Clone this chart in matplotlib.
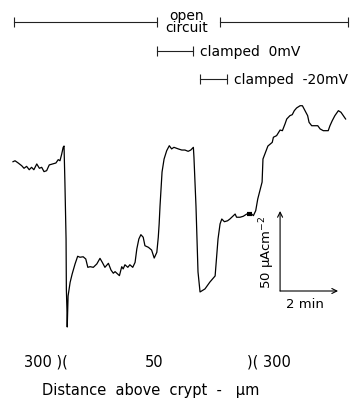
import matplotlib.pyplot as plt
import matplotlib.transforms as mtransforms
import numpy as np

# short-circuit current trace while the probe is moved along the crypt axis
time_min = [
    0.00, 0.07, 0.18, 0.30, 0.38, 0.47, 0.56, 0.64, 0.72, 0.82,
    0.91, 0.99, 1.07, 1.16, 1.25, 1.37, 1.48, 1.56, 1.62, 1.68,
    1.73, 1.76, 1.79, 1.83, 1.84, 1.86, 1.87, 1.90,
    1.97, 2.04, 2.14, 2.23, 2.31, 2.42, 2.51, 2.58, 2.66, 2.77,
    2.89, 3.00, 3.08, 3.17, 3.29, 3.38, 3.46, 3.52, 3.61, 3.67,
    3.75, 3.80, 3.86, 3.96, 4.03, 4.13, 4.21, 4.27, 4.34, 4.41,
    4.49, 4.55, 4.67, 4.78, 4.87, 4.96, 5.01, 5.04, 5.07, 5.14,
    5.21, 5.30, 5.39, 5.47, 5.55, 5.70, 5.82, 5.93, 6.04, 6.13,
    6.22, 6.24, 6.31, 6.38, 6.45, 6.62, 6.79, 6.97, 7.07,
    7.14, 7.20, 7.29, 7.40, 7.48, 7.60, 7.66, 7.71, 7.83, 7.94,
    8.06, 8.23, 8.29, 8.37, 8.44, 8.59, 8.62, 8.79,
    8.94, 8.98, 9.09, 9.21, 9.29, 9.38, 9.44, 9.55, 9.63, 9.70,
    9.78, 9.90, 9.98, 10.07, 10.16, 10.21, 10.30, 10.41, 10.51, 10.59,
    10.70, 10.87, 10.93, 11.01, 11.10, 11.22, 11.31, 11.39, 11.47,
]
current_ua = [
    85.8, 86.4, 85.0, 83.3, 81.7, 82.9, 80.8, 82.3, 80.8, 84.4,
    81.7, 82.3, 79.6, 80.2, 83.8, 84.4, 85.0, 87.1, 86.4, 90.6,
    94.8, 95.6, 73.1, 37.5, 6.3, -6.3, -17.5, 1.9,
    10.4, 15.6, 21.9, 26.7, 26.1, 26.4, 25.0, 19.8, 20.2, 19.8,
    21.9, 25.4, 22.9, 19.8, 22.3, 18.1, 16.1, 17.1, 15.6, 14.6,
    20.2, 18.8, 21.4, 19.8, 21.4, 19.8, 22.9, 31.3, 37.5, 40.2,
    38.6, 33.3, 32.3, 30.6, 25.6, 29.2, 38.6, 46.9, 58.1, 79.4,
    87.5, 92.7, 95.8, 93.8, 94.8, 93.8, 93.1, 93.1, 92.3, 93.1,
    94.8, 88.6, 58.1, 16.9, 4.4, 6.3, 10.6, 14.4, 37.5,
    46.9, 50.0, 48.3, 48.9, 50.0, 52.1, 53.1, 51.1, 51.1, 51.7,
    53.1, 53.1, 52.1, 55.2, 62.5, 73.1, 87.5, 95.6,
    97.9, 101.1, 102.1, 105.6, 105.2, 109.4, 112.5, 114.6, 115.2, 117.7,
    119.4, 120.8, 120.8, 117.7, 114.6, 110.4, 108.3, 108.3, 108.3, 106.3,
    105.2, 105.2, 108.3, 111.5, 114.6, 117.7, 116.7, 114.6, 112.5,
]

# recording periods (minutes)
open_periods = [(0.03, 4.97), (7.14, 11.55)]
clamp_0mv = (4.97, 6.21)
clamp_20mv = (6.45, 7.38)

# scale bar
scale_t0, scale_i0 = 9.21, 5.0
scale_i = 50.0
scale_t = 2.0

# probe positions (distance above crypt, um) and where they occur
pos_labels = ["300 )(", "50", ")( 300"]
pos_times = [1.14, 4.85, 8.83]

fig = plt.figure(figsize=(3.6, 4.06), dpi=100)
ax = fig.add_axes([0, 0, 1, 1])
ax.set_xlim(-0.448, 11.966)
ax.set_ylim(-66.25, 187.5)
ax.axis("off")

t = np.array(time_min)
cur = np.array(current_ua)
ax.plot(t, cur, color="black", lw=0.9, solid_joinstyle="round")
thick = (t >= 8.0) & (t <= 8.25)
ax.plot(t[thick], cur[thick], color="black", lw=3.0, solid_capstyle="butt")

# period bars across the top
trans = mtransforms.blended_transform_factory(ax.transData, ax.transAxes)
bar_kw = dict(color="#222222", lw=0.8, marker="|", markersize=7, markeredgewidth=0.8, transform=trans)
for a, b in open_periods:
    ax.plot([a, b], [0.943, 0.943], **bar_kw)
ax.text(6.0, 0.946, "open\ncircuit", transform=trans, ha="center", va="center",
        fontsize=10, linespacing=0.85)
ax.plot(list(clamp_0mv), [0.872, 0.872], **bar_kw)
ax.text(clamp_0mv[1] + 0.25, 0.872, "clamped  0mV", transform=trans, ha="left",
        va="center", fontsize=10)
ax.plot(list(clamp_20mv), [0.803, 0.803], **bar_kw)
ax.text(clamp_20mv[1] + 0.25, 0.803, "clamped  -20mV", transform=trans, ha="left",
        va="center", fontsize=10)

# calibration arrows
arrow = dict(arrowstyle="->", lw=0.8, color="black", shrinkA=0, shrinkB=0,
             mutation_scale=9)
ax.annotate("", xy=(scale_t0, scale_i0 + scale_i), xytext=(scale_t0, scale_i0),
            arrowprops=arrow)
ax.annotate("", xy=(scale_t0 + scale_t, scale_i0), xytext=(scale_t0, scale_i0),
            arrowprops=arrow)
ax.text(scale_t0 - 0.45, scale_i0 + scale_i / 2, r"50 µAcm$^{-2}$", rotation=90,
        ha="center", va="center", fontsize=9.5)
ax.text(scale_t0 + 0.86, scale_i0 - 7.5, "2 min", ha="center", va="center", fontsize=9.5)

for lab, tt in zip(pos_labels, pos_times):
    ax.text(tt, 0.108, lab, transform=trans, ha="center", va="center", fontsize=10.5)
ax.text(4.76, 0.039, "Distance  above  crypt  -   µm", transform=trans, ha="center",
        va="center", fontsize=10.5)

fig.savefig("out.png", dpi=100)
